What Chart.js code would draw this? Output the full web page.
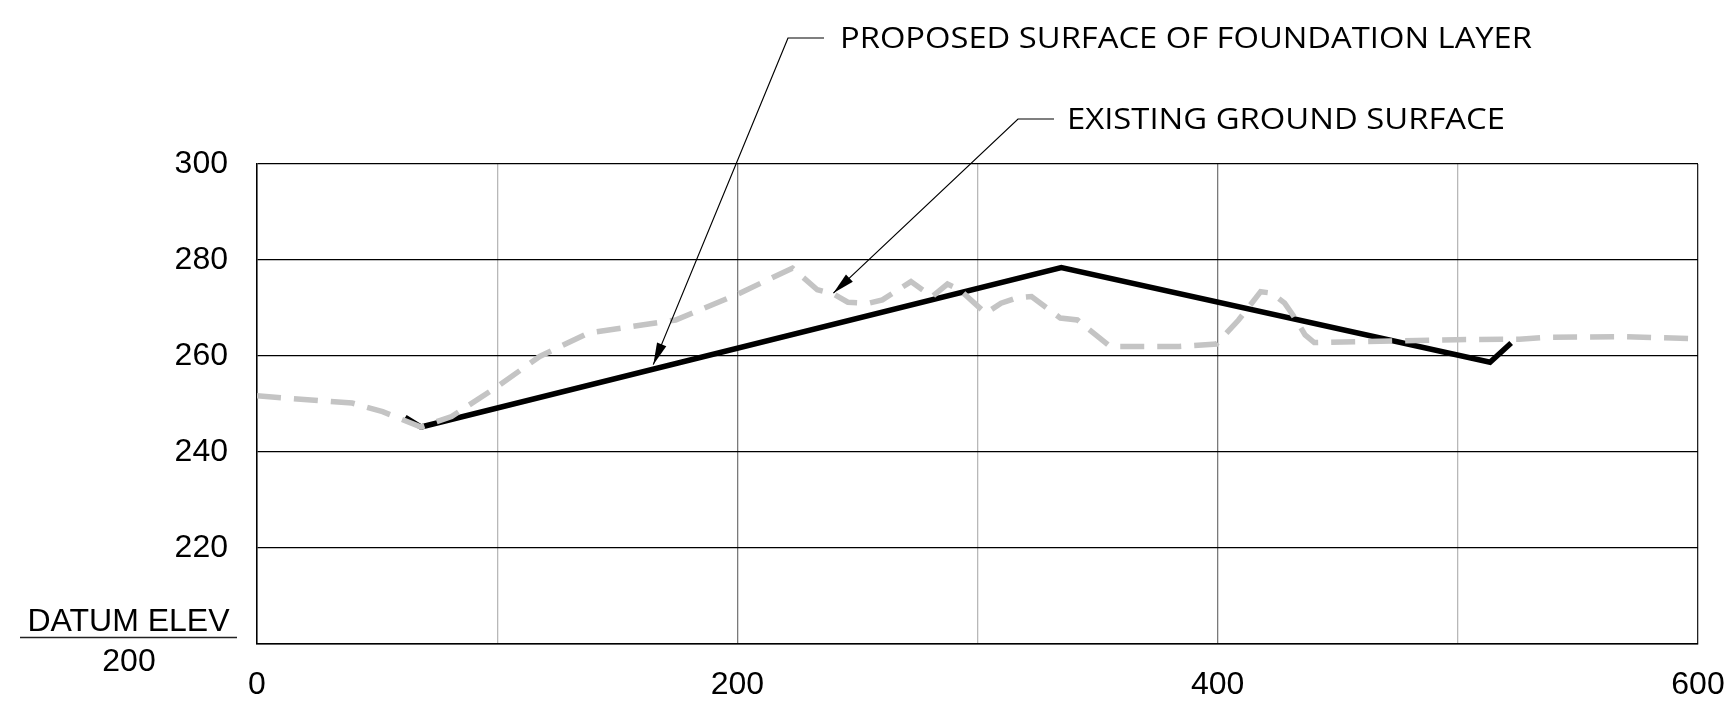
<!DOCTYPE html>
<html>
<head>
<meta charset="utf-8">
<script src="https://cdn.jsdelivr.net/npm/chart.js@4/dist/chart.umd.min.js"></script>
<style>
  html, body { margin: 0; background: #fff; }
  canvas { display: block; }
</style>
</head>
<body>
<canvas id="profile" width="1729" height="720"></canvas>
<script>
// Existing ground profile (station, elevation)
const groundStation = [0, 39.6, 52.3, 68.3, 81, 100, 117.7, 138, 174.3, 199.8, 222.9, 233.3, 239.7, 246,
  254.8, 260.4, 272.3, 281.1, 287.5, 292.3, 303.4, 309.8, 316.2, 322.5, 334.5, 341.6, 355.2, 384,
  399.5, 408.7, 417.9, 422.5, 427.9, 431.8, 436.4, 440.2, 499.4, 525.6, 537.9, 570, 600];
const groundElev = [251.7, 250.2, 248.4, 245.2, 247.4, 253.6, 259.9, 264.8, 267.5, 272.8, 278.3, 273.8, 273.0, 271.2,
  271.0, 271.7, 275.5, 272.4, 275.0, 273.9, 268.9, 271.0, 272.1, 272.4, 267.9, 267.5, 262.0, 262.0,
  262.5, 267.5, 273.4, 273.1, 271.0, 268.2, 264.4, 262.8, 263.4, 263.5, 263.9, 264.0, 263.6];

// Proposed foundation layer surface
const proposedStation = [61.7, 68.3, 334.9, 513.4, 522.2];
const proposedElev = [247.2, 245.2, 278.4, 258.7, 262.7];

const elevMin = 200, elevMax = 300, elevStep = 20;
const stationMin = 0, stationMax = 600, stationStep = 100, stationLabelStep = 200;
const datumLabel = 'DATUM ELEV';

// Leader callouts: text and the point on the profile they point at
const calloutText = ['PROPOSED SURFACE OF FOUNDATION LAYER', 'EXISTING GROUND SURFACE'];
const calloutStation = [165, 240];
const calloutElev = [258.2, 273.1];

// where each callout's text and leader knee sit on the sheet
const calloutLayout = [
  { kneeX: 788, kneeY: 38, textX: 840, textW: 692 },
  { kneeX: 1018, kneeY: 119, textX: 1067, textW: 438 }
];

const TICK_FONT = '"Liberation Sans", Arial, sans-serif';
const NOTE_FONT = '"Open Sans", "Noto Sans", sans-serif';

const toPoints = (xs, ys) => xs.map((x, i) => ({ x, y: ys[i] }));

const annotate = {
  id: 'annotate',
  afterDraw(chart) {
    const { ctx, scales: { x, y } } = chart;
    const bottom = y.getPixelForValue(elevMin);
    ctx.save();

    // datum elevation label under the y axis
    ctx.fillStyle = '#000';
    ctx.font = '32px ' + TICK_FONT;
    ctx.textAlign = 'center';
    ctx.textBaseline = 'middle';
    ctx.fillText(datumLabel, 128.5, bottom - 22);
    ctx.fillText(String(elevMin), 129, bottom + 18);
    ctx.strokeStyle = '#222';
    ctx.lineWidth = 1.5;
    ctx.beginPath();
    ctx.moveTo(20, bottom - 6.5);
    ctx.lineTo(237, bottom - 6.5);
    ctx.stroke();

    // leader lines with arrowheads
    calloutText.forEach((text, i) => {
      const L = calloutLayout[i];
      const tx = x.getPixelForValue(calloutStation[i]);
      const ty = y.getPixelForValue(calloutElev[i]);

      ctx.strokeStyle = '#000';
      ctx.lineWidth = 1.2;
      ctx.beginPath();
      ctx.moveTo(L.kneeX + 36, L.kneeY);
      ctx.lineTo(L.kneeX, L.kneeY);
      ctx.lineTo(tx, ty);
      ctx.stroke();

      const ang = Math.atan2(ty - L.kneeY, tx - L.kneeX);
      const len = 22, half = 5;
      ctx.fillStyle = '#000';
      ctx.beginPath();
      ctx.moveTo(tx, ty);
      ctx.lineTo(tx - len * Math.cos(ang) - half * Math.sin(ang), ty - len * Math.sin(ang) + half * Math.cos(ang));
      ctx.lineTo(tx - len * Math.cos(ang) + half * Math.sin(ang), ty - len * Math.sin(ang) - half * Math.cos(ang));
      ctx.closePath();
      ctx.fill();

      ctx.font = '30px ' + NOTE_FONT;
      ctx.textAlign = 'left';
      ctx.textBaseline = 'middle';
      const w = ctx.measureText(text).width;
      ctx.save();
      ctx.translate(L.textX, L.kneeY);
      ctx.scale(L.textW / w, 1);
      ctx.fillText(text, 0, 1);
      ctx.restore();
    });

    ctx.restore();
  }
};

new Chart(document.getElementById('profile').getContext('2d'), {
  type: 'line',
  data: {
    datasets: [
      {
        label: 'Existing ground surface',
        data: toPoints(groundStation, groundElev),
        borderColor: '#c4c4c4',
        borderWidth: 5.5,
        borderDash: [24, 13],
        pointRadius: 0,
        tension: 0,
        order: 0
      },
      {
        label: 'Proposed surface of foundation layer',
        data: toPoints(proposedStation, proposedElev),
        borderColor: '#000',
        borderWidth: 5.5,
        borderJoinStyle: 'miter',
        pointRadius: 0,
        tension: 0,
        order: 1
      }
    ]
  },
  options: {
    responsive: false,
    animation: false,
    layout: { padding: { top: 164, right: 31, left: 0, bottom: 0 } },
    plugins: { legend: { display: false }, tooltip: { enabled: false } },
    scales: {
      x: {
        type: 'linear',
        min: stationMin,
        max: stationMax,
        ticks: {
          stepSize: stationStep,
          autoSkip: false,
          maxRotation: 0,
          padding: 22,
          color: '#000',
          font: { family: TICK_FONT, size: 32 },
          callback: v => (v % stationLabelStep === 0 ? v : '')
        },
        grid: {
          drawTicks: false,
          lineWidth: 1.3,
          color: c => {
            const v = c.tick ? c.tick.value : 0;
            if (v === stationMax) return '#222';
            return v % stationLabelStep === 0 ? '#7a7a7a' : '#b8b8b8';
          }
        },
        border: { color: '#000', width: 1.5 },
        afterFit(s) {
          s.height = 76;
          // the end labels may hang past the frame
          s.paddingLeft = 0;
          s.paddingRight = 0;
        }
      },
      y: {
        min: elevMin,
        max: elevMax,
        ticks: {
          stepSize: elevStep,
          padding: 29,
          color: '#000',
          font: { family: TICK_FONT, size: 32 },
          callback: v => (v === elevMin ? '' : v)
        },
        grid: { drawTicks: false, color: '#000', lineWidth: 1.2 },
        border: { color: '#000', width: 1.5 },
        afterFit(s) { s.width = 257; }
      }
    }
  },
  plugins: [annotate]
});
</script>
</body>
</html>
